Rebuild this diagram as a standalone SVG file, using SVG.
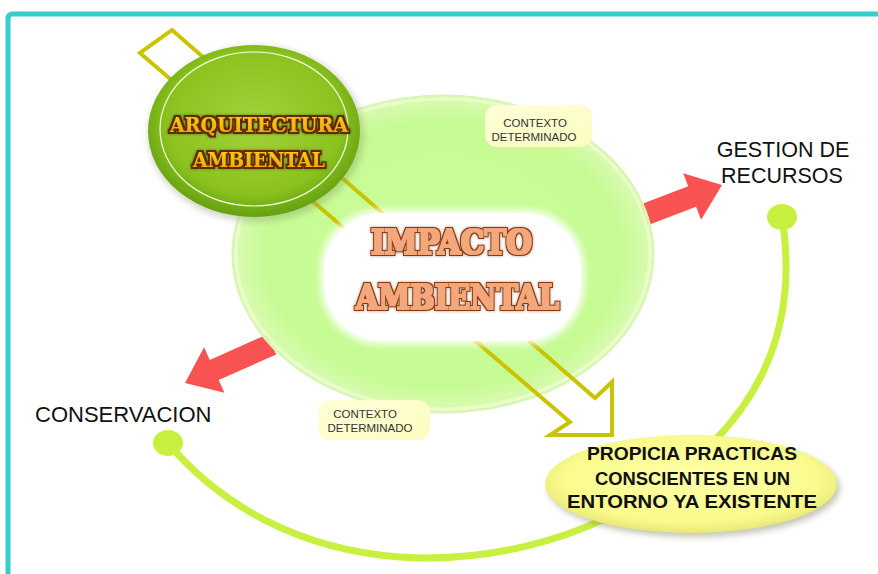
<svg xmlns="http://www.w3.org/2000/svg" width="878" height="574" viewBox="0 0 878 574">
<defs>
<style>
.lbl{font-family:"Liberation Sans",Arial,sans-serif;fill:#111}
.pro{font-family:"Liberation Sans",Arial,sans-serif;font-size:19px;font-weight:bold;fill:#111}
.ctx{font-family:"Liberation Sans",Arial,sans-serif;font-size:11.5px;fill:#333;text-anchor:middle}
.ttl{font-family:"DejaVu Serif","Liberation Serif",serif;font-weight:bold}
.imp{fill:#F5A77B;filter:url(#impF)}
.arq{fill:url(#gArqTxt);filter:url(#arqF)}
.red{fill:#F95252}
.dot{fill:#C8F040}
</style>
<radialGradient id="gBig" cx="50%" cy="50%" r="50%">
<stop offset="0" stop-color="#CCFF99"/>
<stop offset="0.85" stop-color="#C6FA93"/>
<stop offset="1" stop-color="#D8FBB0"/>
</radialGradient>
<radialGradient id="gArq" cx="50%" cy="45%" r="55%">
<stop offset="0" stop-color="#A2D33A"/>
<stop offset="0.75" stop-color="#8CC21F"/>
<stop offset="1" stop-color="#64A010"/>
</radialGradient>
<radialGradient id="gYel" cx="50%" cy="45%" r="55%">
<stop offset="0" stop-color="#FFFFA8"/>
<stop offset="0.8" stop-color="#FAFA8C"/>
<stop offset="1" stop-color="#E8E878"/>
</radialGradient>
<linearGradient id="gCtx" x1="0" y1="0" x2="1" y2="1">
<stop offset="0" stop-color="#FFFFD8"/>
<stop offset="1" stop-color="#FBFBC0"/>
</linearGradient>
<linearGradient id="gArqTxt" x1="0" y1="0" x2="0" y2="1">
<stop offset="0" stop-color="#FFD21A"/>
<stop offset="1" stop-color="#F0A000"/>
</linearGradient>
<filter id="soft" x="-20%" y="-20%" width="140%" height="140%">
<feGaussianBlur stdDeviation="3"/>
</filter>
<filter id="impF" x="-8%" y="-30%" width="116%" height="160%">
<feMorphology in="SourceGraphic" operator="dilate" radius="1" result="thick"/>
<feMorphology in="SourceAlpha" operator="dilate" radius="2.4" result="oa"/>
<feFlood flood-color="#8A3A10"/>
<feComposite in2="oa" operator="in" result="outline"/>
<feGaussianBlur in="oa" stdDeviation="1.8" result="gb"/>
<feFlood flood-color="#5A2A00" flood-opacity="0.45"/>
<feComposite in2="gb" operator="in" result="glow"/>
<feMerge><feMergeNode in="glow"/><feMergeNode in="outline"/><feMergeNode in="thick"/></feMerge>
</filter>
<filter id="arqF" x="-8%" y="-30%" width="116%" height="160%">
<feMorphology in="SourceAlpha" operator="dilate" radius="1.6" result="oa"/>
<feFlood flood-color="#5E2A00"/>
<feComposite in2="oa" operator="in" result="outline"/>
<feGaussianBlur in="oa" stdDeviation="1.5" result="gb"/>
<feFlood flood-color="#402000" flood-opacity="0.5"/>
<feComposite in2="gb" operator="in" result="glow"/>
<feMerge><feMergeNode in="glow"/><feMergeNode in="outline"/><feMergeNode in="SourceGraphic"/></feMerge>
</filter>
</defs>

<rect width="878" height="574" fill="#FFFFFF"/>
<rect x="8" y="14" width="900" height="600" rx="4" fill="none" stroke="#36CDCD" stroke-width="5"/>

<g id="connectors">
<polygon class="red" transform="translate(722,185) rotate(-21)" points="0,0 -32,-25 -32,-11 -95,-11 -95,11 -32,11 -32,25"/>
<polygon class="red" transform="translate(185,383) rotate(156)" points="0,0 -32,-25 -32,-11 -95,-11 -95,11 -32,11 -32,25"/>
<path d="M782,217 C800,330 760,425 640,500 C560,548 470,562 400,557 C300,550 220,505 168,443" fill="none" stroke="#C8F040" stroke-width="7" stroke-linecap="round"/>
<ellipse class="dot" cx="782" cy="217" rx="15" ry="13"/>
<ellipse class="dot" cx="168" cy="443" rx="15" ry="13"/>
</g>

<g id="impacto-area">
<ellipse cx="443" cy="254" rx="210" ry="158" fill="none" stroke="#D9F7B4" stroke-width="3"/>
<ellipse cx="443" cy="254" rx="207" ry="155" fill="url(#gBig)" stroke="#EAFCC8" stroke-width="3"/>
</g>

<g id="arrow-diag">
<polygon points="140,53 570,422 550,435 612,435 612,382 595,398 172,30" fill="none" stroke="#C9C400" stroke-width="4" stroke-linejoin="miter"/>
</g>

<g id="ctx-top">
<rect x="485" y="105" width="107" height="42" rx="12" fill="url(#gCtx)"/>
<text class="ctx" x="535" y="127">CONTEXTO</text>
<text class="ctx" x="534" y="141">DETERMINADO</text>
</g>
<g id="ctx-bottom">
<rect x="318" y="400" width="112" height="40" rx="12" fill="url(#gCtx)"/>
<text class="ctx" x="365" y="418">CONTEXTO</text>
<text class="ctx" x="370" y="432">DETERMINADO</text>
</g>

<g id="impacto">
<rect x="320" y="209" width="265" height="136" rx="60" fill="#FFFFFF" filter="url(#soft)" opacity="0.8"/>
<rect x="324" y="213" width="257" height="128" rx="58" fill="#FFFFFF"/>
<text class="ttl imp" x="371" y="254" font-size="33" textLength="161" lengthAdjust="spacingAndGlyphs">IMPACTO</text>
<text class="ttl imp" x="356" y="309" font-size="33" textLength="203" lengthAdjust="spacingAndGlyphs">AMBIENTAL</text>
</g>

<g id="arquitectura">
<ellipse cx="256" cy="134" rx="108" ry="88" fill="#7F8F60" opacity="0.35" filter="url(#soft)"/>
<ellipse cx="254" cy="131" rx="106" ry="86" fill="url(#gArq)"/>
<ellipse cx="254" cy="129" rx="94" ry="77" fill="none" stroke="#F4FFE0" stroke-width="1.2"/>
<text class="ttl arq" x="170" y="132" font-size="21" textLength="178" lengthAdjust="spacingAndGlyphs">ARQUITECTURA</text>
<text class="ttl arq" x="193" y="167" font-size="21" textLength="132" lengthAdjust="spacingAndGlyphs">AMBIENTAL</text>
</g>

<g id="propicia">
<ellipse cx="694" cy="488" rx="146" ry="49" fill="#808060" opacity="0.45" filter="url(#soft)"/>
<ellipse cx="691" cy="484" rx="146" ry="49" fill="url(#gYel)"/>
<text class="pro" x="587" y="460" textLength="210" lengthAdjust="spacingAndGlyphs">PROPICIA PRACTICAS</text>
<text class="pro" x="595" y="485" textLength="195" lengthAdjust="spacingAndGlyphs">CONSCIENTES EN UN</text>
<text class="pro" x="567" y="508" textLength="250" lengthAdjust="spacingAndGlyphs">ENTORNO YA EXISTENTE</text>
</g>

<g id="gestion">
<text class="lbl" x="783" y="157" font-size="21.5" text-anchor="middle">GESTION DE</text>
<text class="lbl" x="782" y="183" font-size="21.5" text-anchor="middle">RECURSOS</text>
</g>
<g id="conservacion">
<text class="lbl" x="35" y="422" font-size="22">CONSERVACION</text>
</g>
</svg>
